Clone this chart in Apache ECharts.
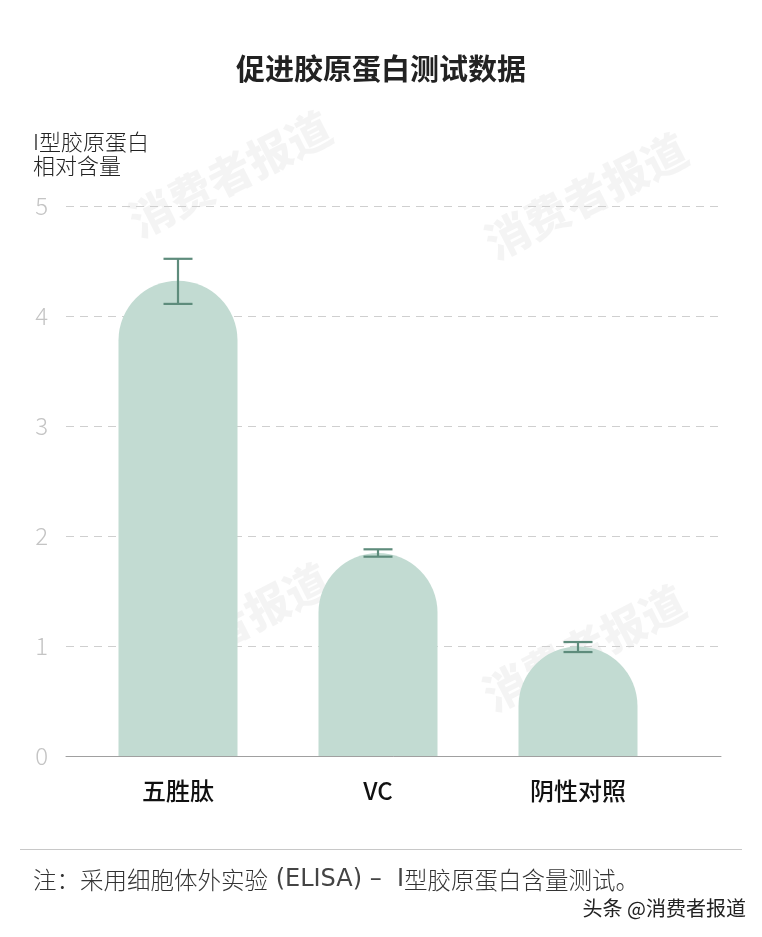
<!DOCTYPE html>
<html>
<head>
<meta charset="utf-8">
<script src="https://cdn.jsdelivr.net/npm/echarts@6/dist/echarts.min.js"></script>
<style>
html,body{margin:0;padding:0;background:#fff;}
#chart{width:762px;height:937px;}
</style>
</head>
<body>
<div id="chart"></div>
<script>
const categories = ['五胜肽', 'VC', '阴性对照'];
const values = [4.32, 1.845, 0.995];
const errLow = [4.11, 1.812, 0.945];
const errHigh = [4.52, 1.879, 1.036];
const yTicks = [0, 1, 2, 3, 4, 5];

const chart = echarts.init(document.getElementById('chart'));
const CJK = '"Noto Sans CJK SC", "Noto Sans", sans-serif';

const wm = (x, y) => ({
  type: 'text', x: x, y: y, rotation: 27 * Math.PI / 180, z: 0, silent: true,
  style: { text: '消费者报道', font: '900 44px "Noto Sans CJK SC"', fill: 'rgba(0,0,0,0.045)', textAlign: 'center', textVerticalAlign: 'middle' }
});

chart.setOption({
  backgroundColor: '#fff',
  animation: false,
  title: {
    text: '促进胶原蛋白测试数据', left: 'center', top: 49,
    textStyle: { fontFamily: CJK, fontSize: 29, fontWeight: 'bold', color: '#222' }
  },
  grid: [
    { left: 66, right: 41, top: 206, bottom: 181 },
    { left: 78, right: 84, top: 206, bottom: 181 }
  ],
  xAxis: [
    { type: 'category', gridIndex: 0, data: categories, axisLabel: { show: false }, axisTick: { show: false },
      axisLine: { lineStyle: { color: '#a0a0a0', width: 1 } } },
    { type: 'category', gridIndex: 1, data: categories, axisTick: { show: false }, axisLine: { show: false },
      axisLabel: { margin: 23, fontFamily: CJK, fontSize: 24, fontWeight: 500, color: '#111' } }
  ],
  yAxis: [
    { type: 'value', gridIndex: 0, min: 0, max: 5, interval: 1,
      axisLine: { show: false }, axisTick: { show: false },
      axisLabel: { margin: 18, fontFamily: CJK, fontSize: 24, fontWeight: 300, color: '#c4c4c4',
        formatter: v => yTicks.includes(v) ? String(v) : '' },
      splitLine: { lineStyle: { color: '#cfcfcf', type: [8, 6], width: 1 } } },
    { type: 'value', gridIndex: 1, min: 0, max: 5, interval: 1, show: false, splitLine: { show: false } }
  ],
  series: [
    { type: 'bar', xAxisIndex: 1, yAxisIndex: 1, data: values, barWidth: 119, z: 2,
      itemStyle: { color: '#c2dbd2', borderRadius: [60, 60, 0, 0] } },
    { type: 'custom', xAxisIndex: 1, yAxisIndex: 1, z: 3,
      data: categories.map((c, i) => [i, errLow[i], errHigh[i]]),
      renderItem: function (params, api) {
        const lo = api.coord([api.value(0), api.value(1)]);
        const hi = api.coord([api.value(0), api.value(2)]);
        const hw = 14.5;
        const st = { stroke: '#5e8c7c', lineWidth: 2.2, fill: null };
        return { type: 'group', children: [
          { type: 'line', shape: { x1: hi[0], y1: hi[1], x2: lo[0], y2: lo[1] }, style: st },
          { type: 'line', shape: { x1: hi[0] - hw, y1: hi[1], x2: hi[0] + hw, y2: hi[1] }, style: st },
          { type: 'line', shape: { x1: lo[0] - hw, y1: lo[1], x2: lo[0] + hw, y2: lo[1] }, style: st }
        ]};
      } }
  ],
  graphic: [
    wm(230, 174), wm(586, 196), wm(228, 626), wm(584, 648),
    { type: 'text', x: 33, y: 130, z: 5,
      style: { text: 'I型胶原蛋白\n相对含量', font: '300 22px "Noto Sans CJK SC"', lineHeight: 23.5, fill: '#222' } },
    { type: 'line', shape: { x1: 20, y1: 849.5, x2: 742, y2: 849.5 }, style: { stroke: '#c8c8c8', lineWidth: 1 } },
    { type: 'text', x: 33, y: 880, z: 5,
      style: {
        text: '{c|注：采用细胞体外实验}{l| (ELISA) –  I}{c|型胶原蛋白含量测试。}',
        textVerticalAlign: 'middle',
        rich: {
          c: { fontFamily: '"Noto Sans CJK SC"', fontWeight: 300, fontSize: 23.5, fill: '#333' },
          l: { fontFamily: '"DejaVu Sans"', fontWeight: 'normal', fontSize: 24, fill: '#444' }
        }
      } },
    { type: 'text', x: 746, y: 908, z: 5,
      style: { text: '头条 @消费者报道', font: '400 20px "Noto Sans CJK SC"', fill: '#222', textAlign: 'right', textVerticalAlign: 'middle' } }
  ]
});
</script>
</body>
</html>
